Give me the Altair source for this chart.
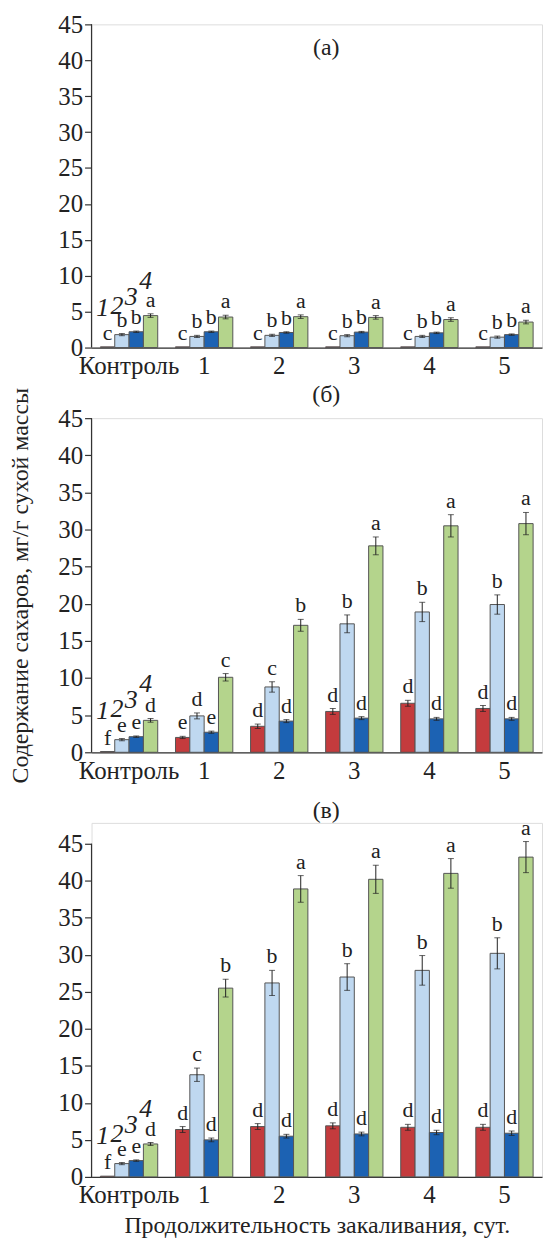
import altair as alt
import pandas as pd

SERIF = "Liberation Serif"

cats = ["Контроль", "1", "2", "3", "4", "5"]
series = ["1", "2", "3", "4"]
colors = ["#c43b3d", "#bfd8f0", "#1c62b3", "#b4d48c"]

# panel (а)
a_s1 = [0.1, 0.1, 0.1, 0.1, 0.1, 0.1]
a_s2 = [1.8, 1.55, 1.7, 1.65, 1.55, 1.45]
a_s3 = [2.2, 2.2, 2.1, 2.15, 2.05, 1.8]
a_s4 = [4.45, 4.25, 4.3, 4.2, 3.9, 3.55]
a_e1 = [0, 0, 0, 0, 0, 0]
a_e2 = [0.15, 0.15, 0.15, 0.15, 0.15, 0.15]
a_e3 = [0.1, 0.1, 0.1, 0.1, 0.1, 0.1]
a_e4 = [0.25, 0.25, 0.25, 0.25, 0.25, 0.25]
a_l1 = ["c", "c", "c", "c", "c", "c"]
a_l2 = ["b", "b", "b", "b", "b", "b"]
a_l3 = ["b", "b", "b", "b", "b", "b"]
a_l4 = ["a", "a", "a", "a", "a", "a"]

# panel (б)
b_s1 = [0.1, 2.0, 3.5, 5.5, 6.6, 5.9]
b_s2 = [1.7, 4.9, 8.8, 17.3, 18.9, 19.9]
b_s3 = [2.1, 2.7, 4.2, 4.6, 4.5, 4.5]
b_s4 = [4.3, 10.1, 17.1, 27.8, 30.5, 30.8]
b_e1 = [0, 0.15, 0.3, 0.4, 0.4, 0.4]
b_e2 = [0.15, 0.4, 0.7, 1.2, 1.3, 1.3]
b_e3 = [0.1, 0.15, 0.2, 0.2, 0.2, 0.2]
b_e4 = [0.25, 0.5, 0.8, 1.2, 1.5, 1.5]
b_l1 = ["f", "e", "d", "d", "d", "d"]
b_l2 = ["e", "d", "c", "b", "b", "b"]
b_l3 = ["e", "e", "d", "d", "d", "d"]
b_l4 = ["d", "c", "b", "a", "a", "a"]

# panel (в)
c_s1 = [0.1, 6.4, 6.8, 6.9, 6.7, 6.7]
c_s2 = [1.8, 13.8, 26.2, 27.0, 27.9, 30.2]
c_s3 = [2.2, 5.0, 5.5, 5.8, 6.0, 5.9]
c_s4 = [4.45, 25.5, 38.9, 40.2, 41.0, 43.2]
c_e1 = [0, 0.4, 0.4, 0.4, 0.4, 0.4]
c_e2 = [0.15, 0.9, 1.7, 1.8, 2.0, 2.1]
c_e3 = [0.1, 0.25, 0.25, 0.25, 0.3, 0.3]
c_e4 = [0.2, 1.2, 1.8, 1.9, 2.0, 2.1]
c_l1 = ["f", "d", "d", "d", "d", "d"]
c_l2 = ["e", "c", "b", "b", "b", "b"]
c_l3 = ["e", "d", "d", "d", "d", "d"]
c_l4 = ["d", "b", "a", "a", "a", "a"]

# series number labels in control group
series_label_y = [5.5, 5.8, 7.0, 9.2]

panel_titles = ["(а)", "(б)", "(в)"]
y_title = "Содержание сахаров, мг/г сухой массы"
x_title = "Продолжительность закаливания, сут."


def make_df(vals, errs, lets):
    rows = []
    for si, s in enumerate(series):
        for ci, c in enumerate(cats):
            v = vals[si][ci]
            e = errs[si][ci]
            rows.append({"cat": c, "ser": s, "val": v, "err": e,
                         "lo": v - e, "hi": v + e, "let": lets[si][ci]})
    return pd.DataFrame(rows)


def panel(df, height, ymax, title, tx, ty, ytitle, xtitle):
    xscale = alt.Scale(paddingInner=0, paddingOuter=0)
    yscale = alt.Scale(domain=[0, ymax], nice=False, zero=True)
    xaxis = alt.Axis(labelAngle=0, ticks=False, tickSize=0, domainColor="#333",
                     domainWidth=1.2, labelFont=SERIF, labelFontSize=25,
                     labelColor="#222", labelPadding=6, title=xtitle,
                     titleFont=SERIF, titleFontSize=24, titleFontWeight="normal",
                     titleColor="#222", titlePadding=6)
    yaxis = alt.Axis(values=list(range(0, 50, 5)), domain=False, grid=False,
                     tickSize=7, tickColor="#333", tickWidth=1.2,
                     labelFont=SERIF, labelFontSize=25, labelColor="#222",
                     labelPadding=2, labelOverlap=False, title=ytitle,
                     titleFont=SERIF, titleFontSize=24,
                     titleFontWeight="normal", titleColor="#222",
                     titlePadding=25)

    def X():
        return alt.X("cat:N", sort=cats, scale=xscale, axis=xaxis)

    def XO():
        return alt.XOffset("ser:N", sort=series,
                           scale=alt.Scale(paddingInner=0, paddingOuter=0.62))

    def Y(f):
        return alt.Y(f, scale=yscale, axis=yaxis)

    base = alt.Chart(df)
    bars = base.mark_bar(stroke="#555", strokeWidth=1).encode(
        x=X(), xOffset=XO(), y=Y("val:Q"),
        color=alt.Color("ser:N", sort=series,
                        scale=alt.Scale(domain=series, range=colors),
                        legend=None),
    )
    eb = base.transform_filter("datum.err > 0")
    rules = eb.mark_rule(color="#222", strokeWidth=1).encode(
        x=X(), xOffset=XO(), y=Y("lo:Q"), y2="hi:Q")
    cap_lo = eb.mark_tick(color="#222", thickness=1, size=6).encode(
        x=X(), xOffset=XO(), y=Y("lo:Q"))
    cap_hi = eb.mark_tick(color="#222", thickness=1, size=6).encode(
        x=X(), xOffset=XO(), y=Y("hi:Q"))
    letters = base.mark_text(font=SERIF, fontSize=22, color="#222",
                             baseline="bottom", dy=-2).encode(
        x=X(), xOffset=XO(), y=Y("hi:Q"), text="let:N")
    sl = pd.DataFrame({"cat": ["Контроль"] * 4, "ser": series,
                       "ly": series_label_y})
    slabels = alt.Chart(sl).mark_text(font=SERIF, fontSize=26,
                                      fontStyle="italic", color="#222",
                                      baseline="middle", dx=-5).encode(
        x=X(), xOffset=XO(), y=Y("ly:Q"), text="ser:N")
    yline = alt.Chart(pd.DataFrame({"k": [0]})).mark_rule(
        color="#333", strokeWidth=1.2).encode(
        x=alt.value(0), y=alt.datum(0, scale=yscale, axis=yaxis),
        y2=alt.datum(45))
    ttl = alt.Chart(pd.DataFrame({"t": [title]})).mark_text(
        font=SERIF, fontSize=24, color="#222", baseline="middle").encode(
        text="t:N", x=alt.value(tx), y=alt.value(ty))
    return alt.layer(bars, rules, cap_lo, cap_hi, letters, slabels, yline,
                     ttl).properties(width=453, height=height)


dfa = make_df([a_s1, a_s2, a_s3, a_s4], [a_e1, a_e2, a_e3, a_e4],
              [a_l1, a_l2, a_l3, a_l4])
dfb = make_df([b_s1, b_s2, b_s3, b_s4], [b_e1, b_e2, b_e3, b_e4],
              [b_l1, b_l2, b_l3, b_l4])
dfc = make_df([c_s1, c_s2, c_s3, c_s4], [c_e1, c_e2, c_e3, c_e4],
              [c_l1, c_l2, c_l3, c_l4])

pa = panel(dfa, 325, 45, panel_titles[0], 236, 24, "", "")
pb = panel(dfb, 336, 45, panel_titles[1], 236, -23, y_title, "")
pc = panel(dfc, 356, 45 * 356 / 335, panel_titles[2], 236, -12, "", x_title)

chart = alt.vconcat(pa, pb, pc, spacing=71, bounds="flush").properties(
    padding=0
).configure_view(stroke="transparent").configure_axis(
    labelFont=SERIF, titleFont=SERIF
).configure(background="white")

chart.save("out.html", embed_options={"renderer": "svg", "actions": False})
